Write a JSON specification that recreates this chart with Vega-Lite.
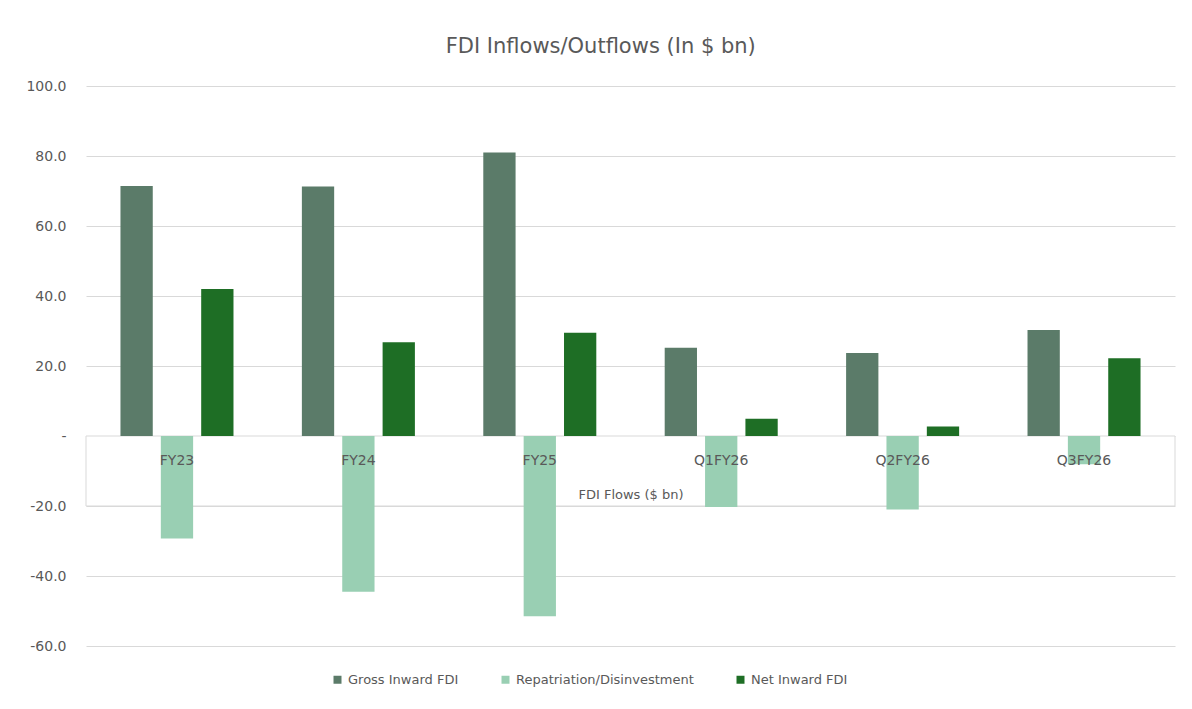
{
  "$schema": "https://vega.github.io/schema/vega-lite/v6.json",
  "width": 1089,
  "height": 560,
  "autosize": {"type": "none"},
  "padding": {"left": 86, "top": 86, "right": 17, "bottom": 63},
  "background": "white",
  "title": {
    "text": "FDI Inflows/Outflows (In $ bn)",
    "fontSize": 21,
    "fontWeight": "normal",
    "font": "DejaVu Sans",
    "color": "#595959",
    "frame": "bounds",
    "anchor": "middle",
    "offset": 22
  },
  "config": {
    "font": "DejaVu Sans",
    "view": {"stroke": null}
  },
  "layer": [
    {
      "data": {"values": [{"top": 0, "bottom": -20}]},
      "mark": {"type": "rect", "fill": "white", "stroke": "#d9d9d9", "strokeWidth": 1},
      "encoding": {
        "y": {"field": "top", "type": "quantitative"},
        "y2": {"field": "bottom"}
      }
    },
    {
      "data": {
        "values": [
          {"period": "FY23", "series": "Gross Inward FDI", "value": 71.4},
          {"period": "FY23", "series": "Repatriation/Disinvestment", "value": -29.3},
          {"period": "FY23", "series": "Net Inward FDI", "value": 42.0},
          {"period": "FY24", "series": "Gross Inward FDI", "value": 71.3},
          {"period": "FY24", "series": "Repatriation/Disinvestment", "value": -44.5},
          {"period": "FY24", "series": "Net Inward FDI", "value": 26.8},
          {"period": "FY25", "series": "Gross Inward FDI", "value": 81.0},
          {"period": "FY25", "series": "Repatriation/Disinvestment", "value": -51.5},
          {"period": "FY25", "series": "Net Inward FDI", "value": 29.5},
          {"period": "Q1FY26", "series": "Gross Inward FDI", "value": 25.2},
          {"period": "Q1FY26", "series": "Repatriation/Disinvestment", "value": -20.3},
          {"period": "Q1FY26", "series": "Net Inward FDI", "value": 4.9},
          {"period": "Q2FY26", "series": "Gross Inward FDI", "value": 23.7},
          {"period": "Q2FY26", "series": "Repatriation/Disinvestment", "value": -21.0},
          {"period": "Q2FY26", "series": "Net Inward FDI", "value": 2.7},
          {"period": "Q3FY26", "series": "Gross Inward FDI", "value": 30.3},
          {"period": "Q3FY26", "series": "Repatriation/Disinvestment", "value": -8.1},
          {"period": "Q3FY26", "series": "Net Inward FDI", "value": 22.2}
        ]
      },
      "mark": {"type": "bar"},
      "encoding": {
        "x": {
          "field": "period",
          "type": "nominal",
          "sort": ["FY23", "FY24", "FY25", "Q1FY26", "Q2FY26", "Q3FY26"],
          "scale": {"paddingInner": 0.377, "paddingOuter": 0.19},
          "axis": {
            "orient": "bottom",
            "offset": -210,
            "domain": false,
            "ticks": false,
            "grid": false,
            "labelAngle": 0,
            "labelFontSize": 14,
            "labelColor": "#595959",
            "labelPadding": 17,
            "title": "FDI Flows ($ bn)",
            "titleFontSize": 13,
            "titleFontWeight": "normal",
            "titleColor": "#595959",
            "titlePadding": 21,
            "zindex": 1
          }
        },
        "xOffset": {
          "field": "series",
          "type": "nominal",
          "sort": ["Gross Inward FDI", "Repatriation/Disinvestment", "Net Inward FDI"],
          "scale": {"paddingInner": 0.2, "paddingOuter": 0}
        },
        "y": {
          "field": "value",
          "type": "quantitative",
          "scale": {"domain": [-60, 100], "nice": false, "zero": false},
          "axis": {
            "title": null,
            "values": [-60, -40, -20, 0, 20, 40, 60, 80, 100],
            "labelExpr": "datum.value == 0 ? '-' : replace(format(datum.value, '.1f'), '\u2212', '-')",
            "domain": false,
            "ticks": false,
            "grid": true,
            "gridColor": "#d9d9d9",
            "gridWidth": 1,
            "labelFontSize": 14,
            "labelColor": "#595959",
            "labelPadding": 20,
            "zindex": 0
          }
        },
        "color": {
          "field": "series",
          "type": "nominal",
          "sort": ["Gross Inward FDI", "Repatriation/Disinvestment", "Net Inward FDI"],
          "scale": {
            "domain": ["Gross Inward FDI", "Repatriation/Disinvestment", "Net Inward FDI"],
            "range": ["#5b7b69", "#99cfb3", "#1e6e25"]
          },
          "legend": {
            "title": null,
            "orient": "none",
            "legendX": 245,
            "legendY": 587,
            "direction": "horizontal",
            "symbolType": "square",
            "symbolSize": 64,
            "symbolStrokeWidth": 0,
            "labelFontSize": 13,
            "labelColor": "#595959",
            "labelOffset": 4,
            "labelLimit": 400,
            "columnPadding": 40
          }
        }
      }
    }
  ]
}
